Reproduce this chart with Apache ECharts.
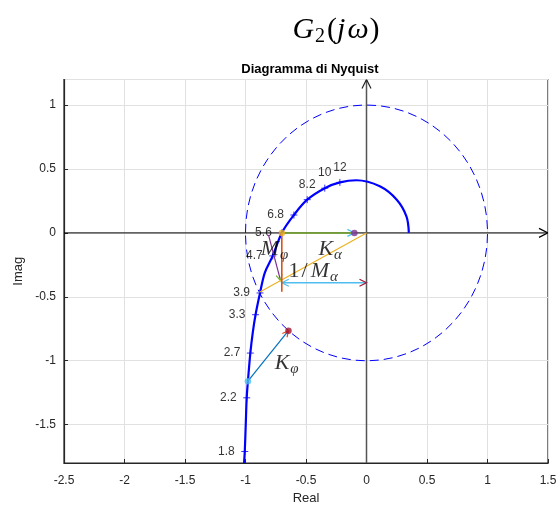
<!DOCTYPE html>
<html><head><meta charset="utf-8">
<script src="https://cdn.jsdelivr.net/npm/echarts@6/dist/echarts.min.js"></script>
<style>html,body{margin:0;padding:0;background:#fff}#c{width:560px;height:514px}</style>
</head><body><div id="c"></div>
<script>
// ---- data ----
const curveRe = [-1.012,-1.006,-0.998,-0.99,-0.98,-0.96,-0.94,-0.917,-0.88,-0.84,-0.775,-0.70,-0.60,-0.49,-0.345,-0.22,-0.083,0.11,0.25,0.33,0.35];
const curveIm = [-1.80,-1.71,-1.50,-1.29,-1.16,-0.94,-0.78,-0.64,-0.47,-0.31,-0.18,0.0,0.14,0.26,0.35,0.395,0.412,0.365,0.26,0.13,0.0];
const freqLabels = ['1.8','2.2','2.7','3.3','3.9','4.7','5.6','6.8','8.2','10','12'];
const freqRe = [-1.006,-0.99,-0.96,-0.917,-0.88,-0.775,-0.70,-0.60,-0.49,-0.345,-0.22];
const freqIm = [-1.71,-1.29,-0.94,-0.64,-0.47,-0.18,0.0,0.14,0.26,0.35,0.395];
const unitCircle = [[0, 0, 1]]; // center re, center im, radius
const axisArrows = [[-2.5,0,1.5,0],[0,-1.8,0,1.2]];
const annArrows = [
  [-0.70,0,-0.10,0],
  [0,-0.39,-0.70,-0.39],
  [-0.81,-0.015,-0.71,-0.373],
  [-0.98,-1.16,-0.645,-0.765],
  [0,0,-0.885,-0.465],
  [-0.70,0,-0.70,-0.46]
];
const dotsRe = [-0.70,-0.10,-0.98,-0.645];
const dotsIm = [0,0,-1.16,-0.765];
const mathLabels = ['{i|M}{s|φ}','{i|K}{s|α}','{n|1}{sl|/}{i|M}{s|α}','{i|K}{s|φ}'];
const mathRe = [-0.76,-0.30,-0.44,-0.66];
const mathIm = [-0.13,-0.13,-0.30,-1.02];
const xTitle = 'Real', yTitle = 'Imag', plotTitle = 'Diagramma di Nyquist';

// ---- styles ----
const axisArrowStyles = [
  {line:'#000000', w:1, head:'#000000', hl:9, hw:4.5},
  {line:'#555555', w:1.5, head:'#222222', hl:9, hw:4.5}
];
const annStyles = [
  {line:'#77AC30', w:1.5, head:'#4DBEEE', hl:7, hw:3.5},
  {line:'#4DBEEE', w:1.3, head:'#4DBEEE', startHead:'#A2142F', hl:7, hw:3.5},
  {line:'#7E2F8E', w:1.2, head:'#77AC30', hl:6, hw:3},
  {line:'#0072BD', w:1.2, head:'#D95319', hl:6, hw:3},
  {line:'#EDB120', w:1.2},
  {line:'#D95319', w:1.6}
];
const dotColors = ['#EDB120','#7E2F8E','#4DBEEE','#A2142F'];

function headPts(tip, from, L, W){
  const dx = tip[0]-from[0], dy = tip[1]-from[1];
  const len = Math.hypot(dx,dy) || 1;
  const ux = dx/len, uy = dy/len, nx = -uy, ny = ux;
  return [[tip[0]-ux*L+nx*W, tip[1]-uy*L+ny*W],[tip[0],tip[1]],[tip[0]-ux*L-nx*W, tip[1]-uy*L-ny*W]];
}
function arrowRenderer(styles){
  return function(params, api){
    const s = styles[params.dataIndex];
    const p1 = api.coord([api.value(0), api.value(1)]);
    const p2 = api.coord([api.value(2), api.value(3)]);
    const ch = [{type:'line', shape:{x1:p1[0],y1:p1[1],x2:p2[0],y2:p2[1]}, style:{stroke:s.line, lineWidth:s.w}}];
    if (s.head) ch.push({type:'polyline', shape:{points:headPts(p2,p1,s.hl,s.hw)}, style:{stroke:s.head, lineWidth:1.2, fill:null}});
    if (s.startHead) ch.push({type:'polyline', shape:{points:headPts(p1,p2,s.hl,s.hw)}, style:{stroke:s.startHead, lineWidth:1.2, fill:null}});
    return {type:'group', children:ch};
  };
}

const serif = '"Liberation Serif", "DejaVu Serif", serif';
const sans = '"Liberation Sans", Arial, sans-serif';
const mathRich = {
  i:{fontFamily:serif, fontStyle:'italic', fontWeight:'normal', fontSize:22, color:'#000'},
  n:{fontFamily:serif, fontWeight:'normal', fontSize:22, color:'#000'},
  sl:{fontFamily:serif, fontWeight:'normal', fontSize:22, color:'#000', padding:[0,3,0,2]},
  s:{fontFamily:serif, fontStyle:'italic', fontWeight:'normal', fontSize:15, color:'#000', padding:[12,0,0,1]}
};

const chart = echarts.init(document.getElementById('c'));
chart.setOption({
  animation:false,
  backgroundColor:'#fff',
  title:[
    {text:'{i|G}{s|2}{n|(}{i|j}{w|ω}{n|)}', left:331, top:9, textAlign:'center',
     textStyle:{fontWeight:'normal', rich:{
       i:{fontFamily:serif, fontStyle:'italic', fontWeight:'normal', fontSize:30, color:'#000'},
       w:{fontFamily:serif, fontStyle:'italic', fontWeight:'normal', fontSize:30, color:'#000', padding:[0,1,0,2]},
       n:{fontFamily:serif, fontWeight:'normal', fontSize:30, color:'#000'},
       s:{fontFamily:serif, fontWeight:'normal', fontSize:20, color:'#000', padding:[13,2,0,1]}
     }}},
    {text:plotTitle, left:305, top:58, textAlign:'center',
     textStyle:{fontFamily:sans, fontWeight:'bold', fontSize:13, color:'#000'}}
  ],
  grid:{left:64, right:12, top:79.5, bottom:51, show:true, borderColor:'#262626', borderWidth:1.2, backgroundColor:'transparent'},
  xAxis:{type:'value', min:-2.5, max:1.5, interval:0.5,
    name:xTitle, nameLocation:'middle', nameGap:29,
    nameTextStyle:{fontFamily:sans, fontSize:13, color:'#262626'},
    axisLine:{show:true, onZero:false, lineStyle:{color:'#262626', width:1.2}},
    axisTick:{show:true, inside:true, length:4, lineStyle:{color:'#262626'}},
    axisLabel:{fontFamily:sans, fontSize:12, color:'#262626', margin:12},
    splitLine:{show:true, lineStyle:{color:'#e1e1e1', width:1}}},
  yAxis:{type:'value', min:-1.8, max:1.2, minInterval:0.5, maxInterval:0.5,
    name:yTitle, nameLocation:'middle', nameGap:38,
    nameTextStyle:{fontFamily:sans, fontSize:13, color:'#262626'},
    axisLine:{show:true, onZero:false, lineStyle:{color:'#262626', width:1.2}},
    axisTick:{show:true, inside:true, length:4, lineStyle:{color:'#262626'}},
    axisLabel:{fontFamily:sans, fontSize:12, color:'#262626', margin:8, showMinLabel:false, showMaxLabel:false},
    splitLine:{show:true, lineStyle:{color:'#e1e1e1', width:1}}},
  series:[
    {type:'custom', z:2, clip:true, data:axisArrows, renderItem:arrowRenderer(axisArrowStyles), silent:true},
    {type:'custom', z:3, clip:true, data:unitCircle, silent:true,
     renderItem:function(params, api){
       const c = api.coord([api.value(0), api.value(1)]);
       const sz = api.size([api.value(2), api.value(2)]);
       return {type:'ellipse', shape:{cx:c[0], cy:c[1], rx:sz[0], ry:sz[1]},
               style:{fill:null, stroke:'#0000FF', lineWidth:1, lineDash:[9,5]}};
     }},
    {type:'line', z:4, data:curveRe.map((r,i)=>[r, curveIm[i]]), smooth:0.35, showSymbol:false,
     lineStyle:{color:'#0000FF', width:2.2}, silent:true},
    {type:'scatter', z:5, data:freqRe.map((r,i)=>({value:[r, freqIm[i]], name:freqLabels[i],
        label:{position: i>=8 ? 'top' : 'left', distance: i>=8 ? 5 : 6}})),
     symbol:'path://M-5,0L5,0M0,-5L0,5', symbolSize:7,
     itemStyle:{color:'rgba(0,0,0,0)', borderColor:'#0000FF', borderWidth:1},
     label:{show:true, formatter:p=>p.name, fontFamily:sans, fontSize:12, color:'#000'}, silent:true},
    {type:'custom', z:6, clip:true, data:annArrows, renderItem:arrowRenderer(annStyles), silent:true},
    {type:'scatter', z:7, data:dotsRe.map((r,i)=>({value:[r, dotsIm[i]], itemStyle:{color:dotColors[i]}})),
     symbolSize:6.5, silent:true},
    {type:'scatter', z:8, data:mathRe.map((r,i)=>({value:[r, mathIm[i]], name:mathLabels[i]})),
     symbolSize:0, silent:true,
     label:{show:true, position:'inside', formatter:p=>p.name, rich:mathRich}}
  ]
});
</script>
</body></html>
